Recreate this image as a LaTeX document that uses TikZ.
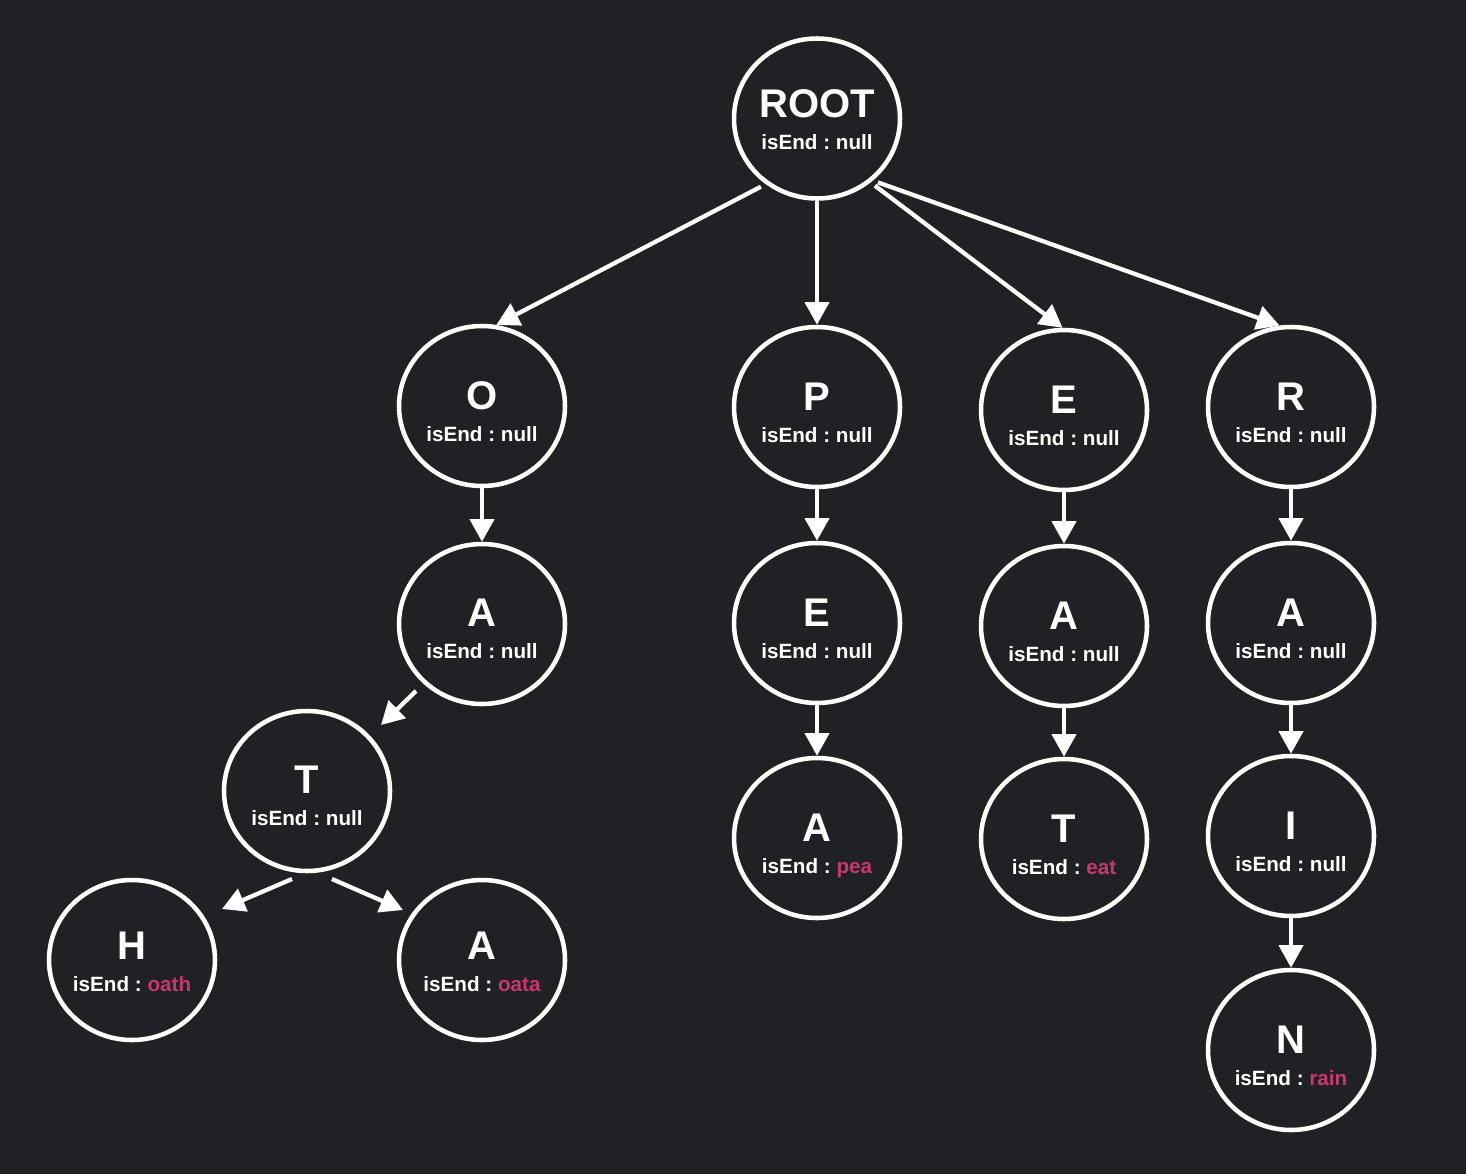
\documentclass[tikz,border=0pt]{standalone}
\usepackage{fontspec}
\setmainfont{Liberation Sans}
\usetikzlibrary{arrows.meta,shapes.geometric,calc}
\definecolor{bg}{RGB}{32,33,36}
\definecolor{pinkw}{RGB}{200,55,110}
\frenchspacing
\tikzset{
  trie/.style={ellipse, draw=white, line width=3.4pt, minimum width=124.5pt, minimum height=120pt, inner sep=0pt},
  letter/.style={text=white, font=\fontsize{30}{30}\selectfont\bfseries, anchor=base, inner sep=0pt},
  endtxt/.style={text=white, font=\fontsize{15.5}{15.5}\selectfont\bfseries, anchor=base, inner sep=0pt},
  link/.style={draw=white, line width=3.2pt, -{Triangle[length=17pt,width=18pt]}},
  gap/.style={shorten <=4pt},
}
\newcommand\trienode[6]{%
  \node[trie] (#1) at (#2,#3) {};
  \node[letter] (#1-l) at (#2,#3+#6) {#4};
  \node[endtxt] (#1-e) at (#2,#3+#6+32) {isEnd : #5};}
\newcommand\pk[1]{\textcolor{pinkw}{#1}}
\begin{document}
\begin{tikzpicture}[x=0.75pt,y=-0.75pt]
\fill[bg] (0,0) rectangle (1466,1174);
\useasboundingbox (0,0) rectangle (1466,1174);
\trienode{root}{817}{118.5}{ROOT}{null}{-1.5}
\trienode{o}{482}{406}{O}{null}{3}
\trienode{p}{817}{407}{P}{null}{3}
\trienode{e}{1064}{410}{E}{null}{3}
\trienode{r}{1291}{407}{R}{null}{3}
\trienode{oa}{482}{624}{A}{null}{2}
\trienode{pe}{817}{623}{E}{null}{3}
\trienode{ea}{1064}{626}{A}{null}{3}
\trienode{ra}{1291}{623}{A}{null}{3}
\trienode{t}{307}{791}{T}{null}{2}
\trienode{pa}{817}{838}{A}{\pk{pea}}{3}
\trienode{et}{1064}{839}{T}{\pk{eat}}{3}
\trienode{ri}{1291}{836}{I}{null}{3}
\trienode{h}{132}{960}{H}{\pk{oath}}{-1}
\trienode{a2}{482}{960}{A}{\pk{oata}}{-1}
\trienode{n}{1291}{1050}{N}{\pk{rain}}{3}
\draw[link,gap] (root.232) -- (o.80);
\draw[link] (root.270) -- (p.90);
\draw[link,gap] (root.310) -- (e.91);
\draw[link,gap] (root.312) -- (r.98);
\draw[link] (o.270) -- (oa.90);
\draw[link] ($(oa.center)+(-66,67)$) -- ($(t.center)+(74,-66)$);
\draw[link] ($(t.center)+(-15,88)$) -- ($(h.center)+(90,-51)$);
\draw[link] ($(t.center)+(25,88)$) -- ($(a2.center)+(-79,-50)$);
\draw[link] (p.270) -- (pe.90);
\draw[link] (pe.270) -- (pa.90);
\draw[link] (e.270) -- (ea.90);
\draw[link] (ea.270) -- (et.90);
\draw[link] (r.270) -- (ra.90);
\draw[link] (ra.270) -- (ri.90);
\draw[link] (ri.270) -- (n.90);
\end{tikzpicture}
\end{document}
